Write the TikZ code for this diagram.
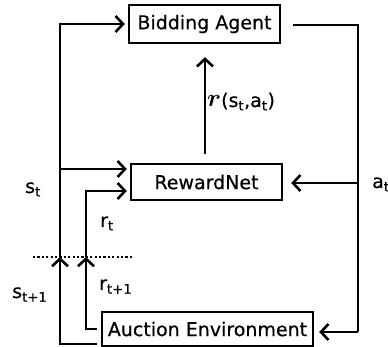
\documentclass[tikz,border=0pt]{standalone}
\usepackage{fontspec}
\setmainfont{DejaVu Sans}[FakeBold=0.5]
\usepackage{amsmath,bm}
\usetikzlibrary{arrows.meta}
\newcommand{\rwd}{{\fontsize{23}{23}\selectfont$\bm{r}$}}
\begin{document}
\begin{tikzpicture}[x=1pt,y=-1pt,
  font=\fontsize{19}{23}\selectfont\addfontfeatures{FakeBold=0.5},
  box/.style={draw, line width=2.4pt, inner sep=0pt},
  link/.style={line width=2.6pt},
  arr/.style={link, -{Straight Barb[length=7.5pt,width=16pt]}},
  lbl/.style={anchor=base west, inner sep=0pt},
  dotline/.style={line width=2.6pt, dash pattern=on 2.2pt off 2.2pt}]
\useasboundingbox (0,0) rectangle (388,347);

% blocks
\node[box, minimum width=151pt, minimum height=38pt] (ba) at (204.5,24) {Bidding Agent};
\node[box, minimum width=151pt, minimum height=36pt] (rn) at (206.5,182) {RewardNet};
\node[box, minimum width=211pt, minimum height=34pt] (ae) at (207.5,329) {Auction Environment};

% bend points
\coordinate (sb) at (97,344);
\coordinate (sl) at (60,344);
\coordinate (sd) at (60,257);
\coordinate (st) at (60,24);
\coordinate (sm) at (60,169);
\coordinate (rb) at (97,329);
\coordinate (rl) at (86,329);
\coordinate (rd) at (86,257);
\coordinate (rtop) at (86,191);
\coordinate (ao) at (293,25);
\coordinate (ar) at (358,25);
\coordinate (am) at (358,183);
\coordinate (ab) at (358,332);
\coordinate (dl) at (33,257);
\coordinate (dr) at (132,257);

% state path
\draw[arr] (sb) -- (sl) -- (sd);
\draw[arr, shorten >=3pt] (sd) -- (st) -- (st -| ba.west);
\draw[arr, shorten >=3pt] (sm) -- (sm -| rn.west);

% reward path
\draw[arr] (rb) -- (rl) -- (rd);
\draw[arr, shorten >=3pt] (rd) -- (rtop) -- (rtop -| rn.west);

% action path
\draw[link] (ao) -- (ar) -- (ab);
\draw[arr, shorten >=5pt] (ab) -- (ab -| ae.east);
\draw[arr, shorten >=8pt] (am) -- (am -| rn.east);

% learned reward
\draw[arr, shorten <=9pt, shorten >=13pt] ([xshift=-1.5pt]rn.north) -- ([xshift=0.5pt]ba.south);

% time step separator
\draw[dotline] (dl) -- (dr);

% labels
\node[lbl] (lr) at (207,107) {\rwd(s\textsubscript{t},a\textsubscript{t})};
\node[lbl] (la) at (372,188) {a\textsubscript{t}};
\node[lbl] (ls) at (25,193) {s\textsubscript{t}};
\node[lbl] (lrt) at (100,227) {r\textsubscript{t}};
\node[lbl] (ls1) at (12,298) {s\textsubscript{t+1}};
\node[lbl] (lr1) at (99,290) {r\textsubscript{t+1}};
\end{tikzpicture}
\end{document}
